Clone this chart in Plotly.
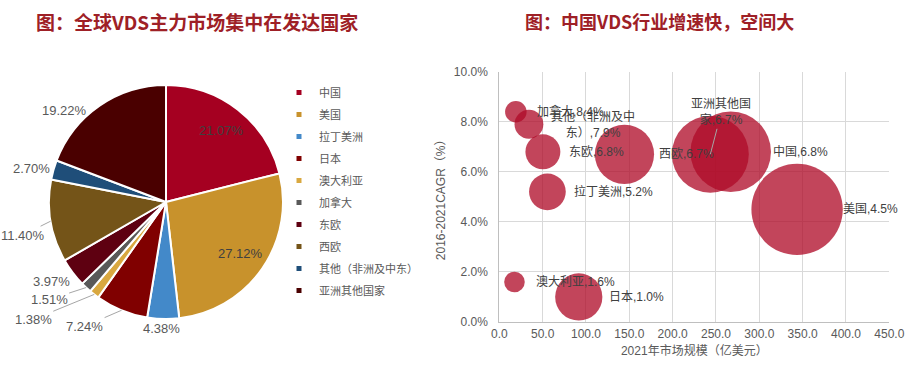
import numpy as np
import plotly.graph_objects as go

# ---------------- data ----------------
regions = ["中国", "美国", "拉丁美洲", "日本", "澳大利亚", "加拿大", "东欧", "西欧",
           "其他（非洲及中东）", "亚洲其他国家"]
share_pct = [21.07, 27.12, 4.38, 7.24, 1.38, 1.51, 3.97, 11.40, 2.70, 19.22]
pie_colors = ["#A50021", "#C8922C", "#4389C9", "#800000", "#D9A840", "#595959",
              "#5E0011", "#745418", "#1F4E79", "#4A0000"]

market_size = [267.0, 343.6, 55.5, 91.7, 17.5, 19.1, 50.3, 144.4, 34.2, 243.5]  # 亿美元
cagr_pct = [6.8, 4.5, 5.2, 1.0, 1.6, 8.4, 6.8, 6.7, 7.9, 6.7]

x_ticks = [0, 50, 100, 150, 200, 250, 300, 350, 400, 450]
y_ticks = [0.0, 0.02, 0.04, 0.06, 0.08, 0.10]

# ---------------- layout constants ----------------
W, H = 919, 378
FONT = "Liberation Sans, Noto Sans CJK SC, sans-serif"
CJK = "Noto Sans CJK SC, Liberation Sans, sans-serif"
TITLE_COLOR = "#9E2026"


def fx(px):
    return px / W


def fy(py):
    return 1 - py / H


pie_cx, pie_cy, pie_r = 166, 202, 117  # px
plot_x0, plot_x1 = 499.3, 889.3
plot_y0, plot_y1 = 71.7, 322.0

fig = go.Figure()

fig.add_trace(go.Pie(
    labels=regions, values=share_pct, sort=False, direction="clockwise", rotation=0,
    marker=dict(colors=pie_colors, line=dict(color="white", width=2)),
    textinfo="none", hoverinfo="label+percent", showlegend=False,
    domain=dict(x=[fx(pie_cx - pie_r), fx(pie_cx + pie_r)],
                y=[fy(pie_cy + pie_r), fy(pie_cy - pie_r)]),
))

# legend entries (small square swatches)
for name, col in zip(regions, pie_colors):
    fig.add_trace(go.Scatter(
        x=[None], y=[None], mode="markers", name=name, legendgroup=name,
        marker=dict(symbol="square", size=5, color=col), showlegend=True,
        xaxis="x", yaxis="y"))

# bubbles
max_diam = 64.6
sizeref = max(market_size) / max_diam ** 2
fig.add_trace(go.Scatter(
    x=market_size, y=[v / 100 for v in cagr_pct], mode="markers", showlegend=False,
    marker=dict(size=market_size, sizemode="area", sizeref=sizeref, opacity=1,
                color="rgba(175,10,40,0.76)", line=dict(width=0)),
    hoverinfo="x+y", xaxis="x", yaxis="y"))

annotations = []

# pie labels
vals = np.array(share_pct)
cum = np.cumsum(vals) - vals / 2
mid_deg = cum / vals.sum() * 360.0
# (dx, dy, leader) offsets from rim point for outside labels; None -> inside label
label_style = [None, None, (-2, 10, False), (-37, 16, True), (-61, 25, True),
               (-37, 12, True), (-21, 9, False), (-28, 14, True), (-22, -1, False),
               (-35, 5, False)]
for v, ang, st in zip(share_pct, mid_deg, label_style):
    th = np.radians(ang)
    txt = f"{v:.2f}%"
    if st is None:
        px = pie_cx + 0.77 * pie_r * np.sin(th)
        py = pie_cy - 0.77 * pie_r * np.cos(th)
        annotations.append(dict(x=fx(px), y=fy(py), xref="paper", yref="paper",
                                xanchor="center", yanchor="middle",
                                text=txt, showarrow=False,
                                font=dict(family=FONT, size=13, color="#404040")))
    else:
        dx, dy, leader = st
        px = pie_cx + pie_r * np.sin(th)
        py = pie_cy - pie_r * np.cos(th)
        annotations.append(dict(x=fx(px), y=fy(py), xref="paper", yref="paper",
                                xanchor="center", yanchor="middle",
                                text=txt, showarrow=True, ax=dx, ay=dy,
                                arrowhead=0, arrowwidth=1, standoff=0,
                                arrowcolor="#A6A6A6" if leader else "rgba(0,0,0,0)",
                                font=dict(family=FONT, size=13, color="#595959")))


# bubble labels
def bubble_r(v):
    return np.sqrt(v / sizeref) / 2


breaks = {"其他（非洲及中东）": 7, "亚洲其他国家": 5}
for name, xv, yv in zip(regions, market_size, cagr_pct):
    full = f"{name},{yv:.1f}%"
    if name in breaks:
        k = breaks[name]
        full = full[:k] + "<br>" + full[k:]
    base = dict(x=xv, y=yv / 100, xref="x", yref="y", text=full, yanchor="middle",
                font=dict(family=FONT, size=12, color="#404040"))
    if name == "亚洲其他国家":
        base.update(showarrow=True, ax=11, ay=-42, arrowhead=0, arrowwidth=1,
                    arrowcolor="#A6A6A6", standoff=0, xanchor="center")
    elif name == "其他（非洲及中东）":
        base.update(showarrow=False, xanchor="center", xshift=64)
    else:
        base.update(showarrow=False, xanchor="left", xshift=bubble_r(xv) + 12)
    annotations.append(base)

# titles
annotations.append(dict(x=fx(197), y=fy(21), xref="paper", yref="paper",
                        xanchor="center", yanchor="middle",
                        text="<b>图：全球VDS主力市场集中在发达国家</b>", showarrow=False,
                        font=dict(family=CJK, size=19, color=TITLE_COLOR)))
annotations.append(dict(x=fx(659), y=fy(21), xref="paper", yref="paper",
                        xanchor="center", yanchor="middle",
                        text="<b>图：中国VDS行业增速快，空间大</b>", showarrow=False,
                        font=dict(family=CJK, size=18, color=TITLE_COLOR)))

fig.update_layout(
    template="none",
    width=W, height=H, autosize=False,
    margin=dict(l=0, r=0, t=0, b=0, pad=0, autoexpand=False),
    paper_bgcolor="white", plot_bgcolor="white",
    font=dict(family=FONT, color="#595959"),
    hovermode=False,
    xaxis=dict(domain=[fx(plot_x0), fx(plot_x1)], range=[0, 450], automargin=False,
               tickvals=x_ticks, tickformat=".1f", showgrid=True, gridcolor="#D9D9D9",
               gridwidth=1, showline=True, linecolor="#BFBFBF", linewidth=1, zeroline=False,
               ticks="", ticklabelstandoff=1,
               tickfont=dict(family=FONT, size=12, color="#595959"),
               title=dict(text="2021年市场规模（亿美元）", standoff=6,
                          font=dict(family=FONT, size=12, color="#595959"))),
    yaxis=dict(domain=[fy(plot_y1), fy(plot_y0)], range=[0, 0.10], automargin=False,
               tickvals=y_ticks, tickformat=".1%", showgrid=True, gridcolor="#D9D9D9",
               gridwidth=1, showline=True, linecolor="#BFBFBF", linewidth=1, zeroline=False,
               ticks="", ticklabelstandoff=8, anchor="x",
               tickfont=dict(family=FONT, size=12, color="#595959"),
               title=dict(text="2016-2021CAGR（%）", standoff=5,
                          font=dict(family=FONT, size=12, color="#595959"))),
    legend=dict(x=fx(279), y=fy(78), xanchor="left", yanchor="top",
                font=dict(family=CJK, size=11, color="#595959"),
                tracegroupgap=3, itemclick=False, bgcolor="rgba(0,0,0,0)", borderwidth=0),
    annotations=annotations,
)

fig.write_html("out.html", config={"displayModeBar": False},
               post_script="document.body.style.margin='0px';document.body.style.overflow='hidden';")
